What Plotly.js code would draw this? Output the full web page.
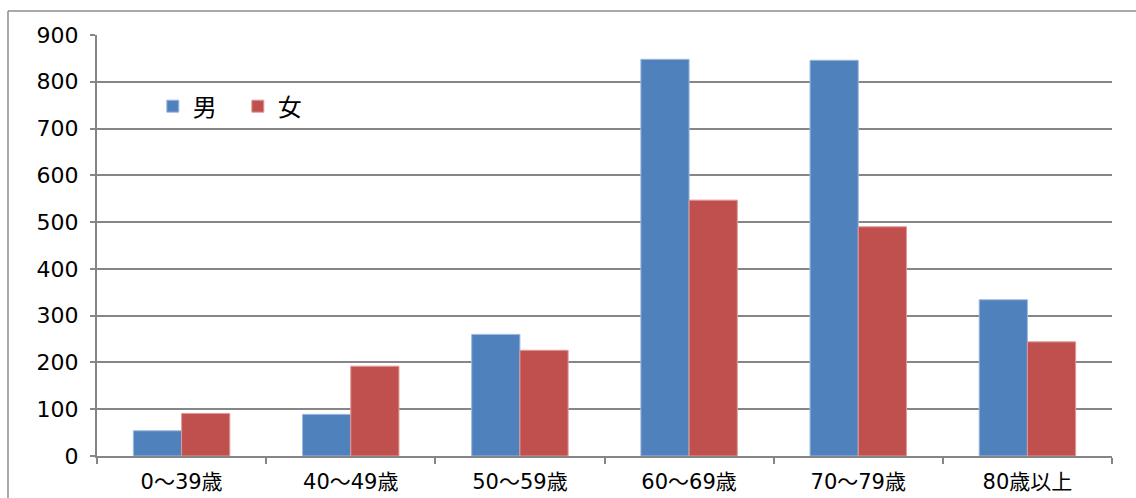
<!DOCTYPE html>
<html>
<head>
<meta charset="utf-8">
<script src="https://cdn.plot.ly/plotly-3.0.1.min.js"></script>
<style>html,body{margin:0;padding:0;background:#fff;}#chart{width:1136px;height:498px;}</style>
</head>
<body>
<div id="chart"></div>
<script>
const categories = ["0～39歳", "40～49歳", "50～59歳", "60～69歳", "70～79歳", "80歳以上"];
const maleValues = [54, 89, 260, 848, 846, 334];
const femaleValues = [91, 192, 226, 547, 490, 244];
const seriesNames = ["男", "女"];
const yTicks = [0, 100, 200, 300, 400, 500, 600, 700, 800, 900];

const FONT = '"DejaVu Sans", "Noto Sans CJK JP", sans-serif';
const GRID = '#868686';

const traces = [
  {type: 'bar', name: seriesNames[0], x: categories, y: maleValues,
   marker: {color: '#4F81BD', line: {color: '#9DB9E0', width: 1}}},
  {type: 'bar', name: seriesNames[1], x: categories, y: femaleValues,
   marker: {color: '#C0504D', line: {color: '#E09A98', width: 1}}}
];

const layout = {
  width: 1136, height: 498,
  margin: {l: 97, r: 24, t: 35, b: 42, pad: 0},
  paper_bgcolor: '#ffffff', plot_bgcolor: '#ffffff',
  font: {family: FONT, size: 21, color: '#000000'},
  barmode: 'group', bargap: 0.43, bargroupgap: 0,
  showlegend: true,
  legend: {orientation: 'h', x: 0.055, y: 0.83, xanchor: 'left', yanchor: 'middle',
           bgcolor: 'rgba(0,0,0,0)', font: {family: '"Noto Sans CJK JP", sans-serif', size: 24, color: '#000'},
           entrywidth: 40, entrywidthmode: 'pixels', itemclick: false},
  xaxis: {type: 'category', showgrid: false, showline: true, linecolor: GRID, linewidth: 2,
          ticks: 'outside', tickson: 'boundaries', ticklen: 6, tickcolor: GRID, tickwidth: 2,
          tickfont: {family: FONT, size: 21, color: '#000'}, ticklabelstandoff: 6, fixedrange: true},
  yaxis: {range: [0, 900], tickvals: yTicks, showgrid: true, gridcolor: GRID, gridwidth: 2,
          zeroline: false, showline: true, linecolor: GRID, linewidth: 2,
          ticks: 'outside', ticklen: 5, tickcolor: GRID, tickwidth: 2,
          tickfont: {family: FONT, size: 22, color: '#000'}, ticklabelstandoff: 7, fixedrange: true},
  shapes: [
    {type: 'line', xref: 'paper', yref: 'paper', x0: -0.0877, x1: 1.03, y0: 1.057, y1: 1.057,
     line: {color: '#8c8c8c', width: 1.5}},
    {type: 'line', xref: 'paper', yref: 'paper', x0: -0.0877, x1: -0.0877, y0: 1.057, y1: -0.2,
     line: {color: '#8c8c8c', width: 1.5}}
  ]
};

Plotly.newPlot('chart', traces, layout, {displayModeBar: false, staticPlot: true});
</script>
</body>
</html>
